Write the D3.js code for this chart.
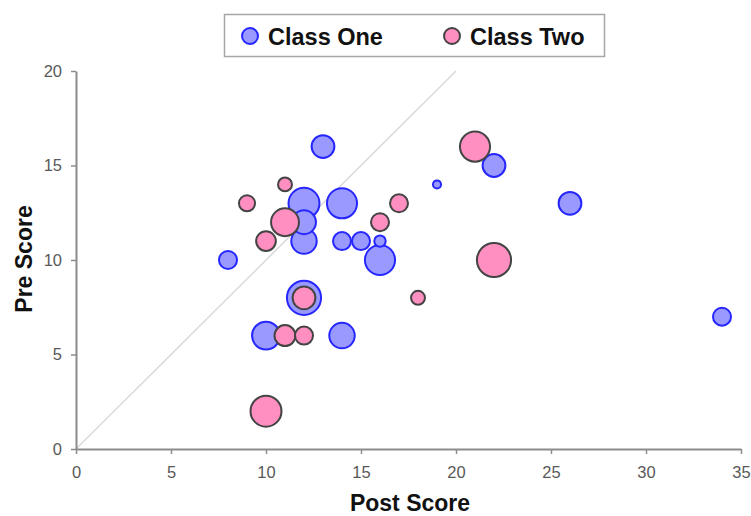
<!DOCTYPE html>
<html>
<head>
<meta charset="utf-8">
<script src="https://cdn.jsdelivr.net/npm/d3@7"></script>
<style>
  html, body { margin: 0; padding: 0; background: #fff; }
  svg { display: block; font-family: "Liberation Sans", Arial, sans-serif; }
</style>
</head>
<body>
<svg id="chart" width="751" height="516"></svg>
<script>
// ---- Data ----
const seriesNames = ["Class One", "Class Two"];
// Class One: post score, pre score, bubble size
const classOnePost = [13, 12, 14, 12, 12, 14, 15, 16, 16, 8, 19, 22, 26, 34, 12, 10, 14];
const classOnePre  = [16, 13, 13, 12, 11, 11, 11, 11, 10, 10, 14, 15, 13, 7, 8, 6, 6];
const classOneSize = [4, 7.4, 7, 4.4, 5, 2.5, 2.5, 1, 7, 2.5, 0.5, 4, 4, 2.5, 9, 6, 5];
// Class Two
const classTwoPost = [21, 11, 9, 17, 11, 16, 10, 22, 18, 12, 11, 12, 10];
const classTwoPre  = [16, 14, 13, 13, 12, 12, 11, 10, 8, 8, 6, 6, 2];
const classTwoSize = [7, 1.5, 2, 2.5, 6, 2.5, 3, 9, 1.5, 4, 3.4, 2.5, 7.4];
const xTicks = [0, 5, 10, 15, 20, 25, 30, 35];
const yTicks = [0, 5, 10, 15, 20];

// ---- Layout ----
const svg = d3.select("#chart");
const x = d3.scaleLinear().domain([0, 35]).range([76, 741]);
const y = d3.scaleLinear().domain([0, 20]).range([449, 71]);
const r = d3.scaleSqrt().domain([0, 10]).range([0, 18]);

const styles = [
  { fill: "#9999ff", stroke: "#2626ff" },
  { fill: "#ff8fc0", stroke: "#444444" }
];

// diagonal reference line y = x
svg.append("line")
  .attr("x1", x(0)).attr("y1", y(0))
  .attr("x2", x(20)).attr("y2", y(20))
  .attr("stroke", "#d9d9d9").attr("stroke-width", 1.5);

// axes
const xAxis = svg.append("g").attr("transform", `translate(0,${y(0)})`)
  .call(d3.axisBottom(x).tickValues(xTicks).tickSize(5).tickSizeOuter(0).tickPadding(12));
const yAxis = svg.append("g").attr("transform", `translate(${x(0)},0)`)
  .call(d3.axisLeft(y).tickValues(yTicks).tickSize(5).tickSizeOuter(0).tickPadding(9));
[xAxis, yAxis].forEach(g => {
  g.select(".domain").attr("stroke", "#8c8c8c").attr("stroke-width", 2);
  g.selectAll(".tick line").attr("stroke", "#8c8c8c").attr("stroke-width", 1.5);
  g.selectAll(".tick text").attr("fill", "#595959").style("font-size", "16.5px")
    .style("font-family", "'Liberation Sans', Arial, sans-serif");
});

// bubbles
const series = [
  classOnePost.map((p, i) => ({ post: p, pre: classOnePre[i], size: classOneSize[i] })),
  classTwoPost.map((p, i) => ({ post: p, pre: classTwoPre[i], size: classTwoSize[i] }))
];
series.forEach((data, si) => {
  const sorted = data.slice().sort((a, b) => b.size - a.size);
  svg.append("g").selectAll("circle").data(sorted).join("circle")
    .attr("cx", d => x(d.post))
    .attr("cy", d => y(d.pre))
    .attr("r", d => r(d.size))
    .attr("fill", styles[si].fill)
    .attr("stroke", styles[si].stroke)
    .attr("stroke-width", 2);
});

// axis titles
svg.append("text")
  .attr("x", 410).attr("y", 511)
  .attr("text-anchor", "middle")
  .style("font-size", "23px").style("font-weight", "bold").attr("fill", "#111")
  .text("Post Score");
svg.append("text")
  .attr("transform", "translate(32,259) rotate(-90)")
  .attr("text-anchor", "middle")
  .style("font-size", "23px").style("font-weight", "bold").attr("fill", "#111")
  .text("Pre Score");

// legend
const legend = svg.append("g");
legend.append("rect")
  .attr("x", 224.5).attr("y", 14.5).attr("width", 380).attr("height", 42)
  .attr("fill", "#fff").attr("stroke", "#a6a6a6").attr("stroke-width", 1.5);
const legendX = [250, 452];
seriesNames.forEach((name, i) => {
  legend.append("circle")
    .attr("cx", legendX[i]).attr("cy", 36).attr("r", 8)
    .attr("fill", styles[i].fill).attr("stroke", styles[i].stroke).attr("stroke-width", 2);
  legend.append("text")
    .attr("x", legendX[i] + 18).attr("y", 45)
    .style("font-size", "23.5px").style("font-weight", "bold").attr("fill", "#111")
    .text(name);
});
</script>
</body>
</html>
